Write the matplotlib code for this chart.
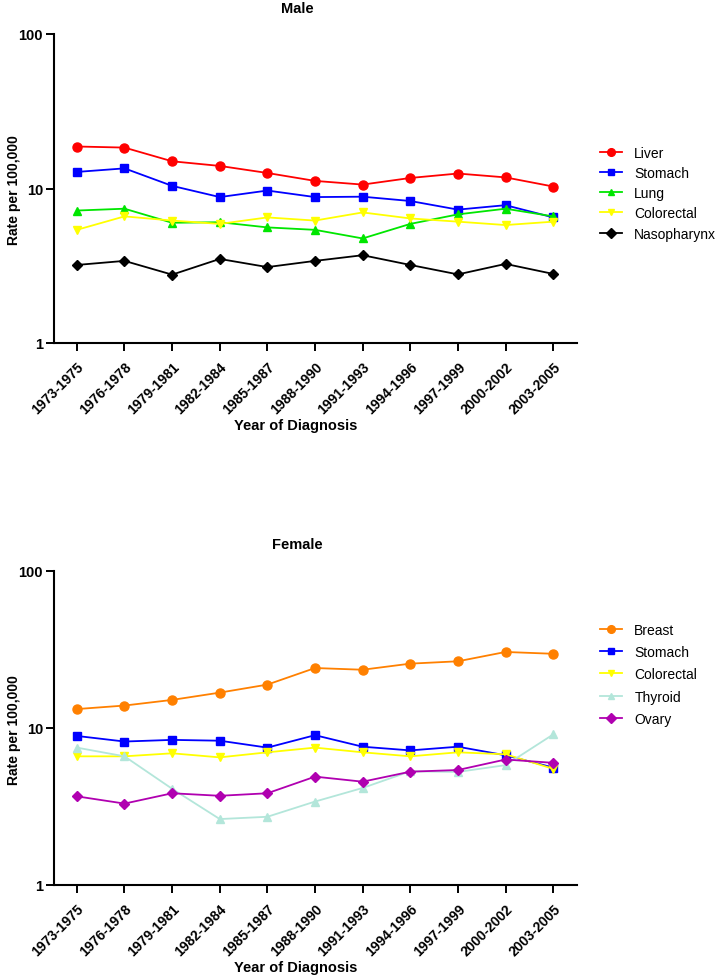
import numpy as np
import matplotlib
matplotlib.use("Agg")
import matplotlib.pyplot as plt
from matplotlib.ticker import FixedLocator, NullLocator

plt.rcParams['font.family'] = ['Liberation Sans', 'DejaVu Sans']

periods = ["1973-1975", "1976-1978", "1979-1981", "1982-1984", "1985-1987",
           "1988-1990", "1991-1993", "1994-1996", "1997-1999", "2000-2002",
           "2003-2005"]

# male rates per 100,000
male_liver = [18.7, 18.4, 15.0, 14.0, 12.6, 11.2, 10.6, 11.7, 12.5, 11.8, 10.3]
male_stomach = [12.8, 13.5, 10.4, 8.8, 9.7, 8.8, 8.85, 8.3, 7.3, 7.8, 6.5]
male_lung = [7.2, 7.4, 6.0, 6.05, 5.6, 5.4, 4.75, 5.9, 6.8, 7.4, 6.6]
male_colorectal = [5.4, 6.6, 6.2, 5.9, 6.5, 6.2, 7.0, 6.4, 6.1, 5.8, 6.1]
male_naso = [3.2, 3.4, 2.77, 3.5, 3.1, 3.4, 3.7, 3.2, 2.78, 3.25, 2.8]

# female rates per 100,000
fem_breast = [13.2, 13.9, 15.1, 16.8, 18.9, 24.1, 23.5, 25.7, 26.6, 30.5, 29.7]
fem_stomach = [8.9, 8.2, 8.4, 8.3, 7.5, 9.0, 7.6, 7.2, 7.6, 6.7, 5.6]
fem_colorectal = [6.6, 6.6, 6.9, 6.5, 7.0, 7.5, 7.0, 6.6, 7.0, 6.8, 5.5]
fem_thyroid = [7.5, 6.6, 4.1, 2.63, 2.72, 3.4, 4.15, 5.3, 5.25, 5.8, 9.1]
fem_ovary = [3.67, 3.3, 3.84, 3.7, 3.84, 4.9, 4.55, 5.27, 5.4, 6.3, 6.0]

male_series = [("Liver", male_liver, "#ff0000", "o"),
               ("Stomach", male_stomach, "#0000ff", "s"),
               ("Lung", male_lung, "#00e600", "^"),
               ("Colorectal", male_colorectal, "#ffff00", "v"),
               ("Nasopharynx", male_naso, "#000000", "D")]

fem_series = [("Breast", fem_breast, "#ff8000", "o"),
              ("Stomach", fem_stomach, "#0000ff", "s"),
              ("Colorectal", fem_colorectal, "#ffff00", "v"),
              ("Thyroid", fem_thyroid, "#b3e6da", "^"),
              ("Ovary", fem_ovary, "#b000b0", "D")]

W, H = 718, 979
fig = plt.figure(figsize=(W / 100, H / 100), dpi=100)


def px_axes(left, top, right, bottom):
    return fig.add_axes([left / W, 1 - bottom / H, (right - left) / W, (bottom - top) / H])


def draw_panel(ax, series, title, title_y, xlabel_y, ylabel_y, leg_top, spacing):
    x = np.arange(len(periods))
    for name, vals, color, marker in series:
        ms = 6.5 if marker == "o" else 5.5
        ax.plot(x, vals, color=color, marker=marker, markersize=ms,
                linewidth=1.3, label=name)
    ax.set_yscale("log")
    ax.set_ylim(1, 100)
    ax.set_xlim(-0.48, 10.5)
    ax.yaxis.set_major_locator(FixedLocator([1, 10, 100]))
    ax.yaxis.set_minor_locator(NullLocator())
    ax.set_yticklabels(["1", "10", "100"], fontsize=10.5, fontweight="bold")
    ax.set_xticks(x)
    ax.set_xticklabels(periods, rotation=45, ha="right", rotation_mode="anchor",
                       fontsize=10, fontweight="bold")
    for side in ("top", "right"):
        ax.spines[side].set_visible(False)
    for side in ("left", "bottom"):
        ax.spines[side].set_linewidth(1.5)
    ax.tick_params(length=6, width=1.4, direction="out", pad=2)
    ax.tick_params(axis="x", pad=5.5)
    fig.text(297 / W, 1 - title_y / H, title, ha="center", va="center",
             fontsize=10.5, fontweight="bold")
    fig.text(296 / W, 1 - xlabel_y / H, "Year of Diagnosis", ha="center",
             va="center", fontsize=10.5, fontweight="bold")
    fig.text(14 / W, 1 - ylabel_y / H, "Rate per 100,000", ha="center",
             va="center", rotation=90, fontsize=10, fontweight="bold")
    ax.legend(loc="upper left", bbox_to_anchor=(594 / W, 1 - leg_top / H),
              bbox_transform=fig.transFigure, frameon=False, fontsize=10,
              handlelength=1.6, handletextpad=0.9, labelspacing=spacing,
              borderaxespad=0, markerscale=0.85)


ax1 = px_axes(54, 35, 577, 344)
draw_panel(ax1, male_series, "Male", 9, 426, 190, 141, 0.45)

ax2 = px_axes(54, 572, 577, 886)
draw_panel(ax2, fem_series, "Female", 545, 968, 730, 618, 0.6)

fig.savefig("out.png", dpi=100)
